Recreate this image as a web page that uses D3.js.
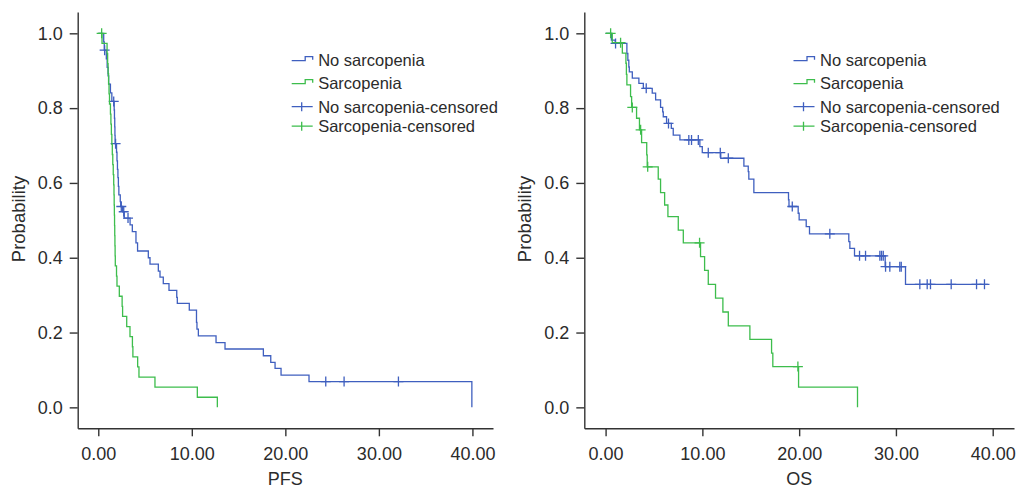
<!DOCTYPE html>
<html>
<head>
<meta charset="utf-8">
<script src="https://cdnjs.cloudflare.com/ajax/libs/d3/7.8.5/d3.min.js"></script>
<style>
  body { margin: 0; background: #fff; }
  text { font-family: "Liberation Sans", Arial, Helvetica, sans-serif; fill: #2b2b2b; }
</style>
</head>
<body>
<script>
// ---- data (time, survival after each drop; last point = end of follow-up) ----
var xTicks = [0, 10, 20, 30, 40];
var yTicks = [0, 0.2, 0.4, 0.6, 0.8, 1.0];
var legendLabels = ["No sarcopenia", "Sarcopenia", "No sarcopenia-censored", "Sarcopenia-censored"];

var pfsNoSarc = [
  [0, 1], [0.58, 0.977], [0.64, 0.955], [0.86, 0.932], [0.95, 0.909], [1.05, 0.886], [1.11, 0.864],
  [1.3, 0.841], [1.45, 0.818], [1.7, 0.795], [1.73, 0.773], [1.76, 0.75], [1.78, 0.727], [1.8, 0.705],
  [1.95, 0.682], [2.0, 0.659], [2.05, 0.636], [2.1, 0.614], [2.15, 0.591], [2.2, 0.568], [2.35, 0.55],
  [2.4, 0.537], [2.6, 0.523], [2.78, 0.506], [3.4, 0.488], [3.64, 0.47], [4.03, 0.44], [4.2, 0.418],
  [5.35, 0.4], [5.53, 0.383], [6.42, 0.364], [6.6, 0.348], [6.95, 0.331], [7.56, 0.313], [8.39, 0.294],
  [8.45, 0.278], [9.73, 0.26], [10.5, 0.227], [10.55, 0.209], [10.7, 0.191], [12.59, 0.173],
  [13.55, 0.156], [17.65, 0.138], [18.44, 0.12], [18.9, 0.104], [19.54, 0.086], [22.53, 0.069], [39.94, 0]
];
var pfsNoSarcCensored = [
  [0.68, 0.955], [1.65, 0.818], [1.85, 0.705], [2.46, 0.537], [2.72, 0.523], [3.18, 0.506],
  [24.32, 0.069], [26.28, 0.069], [32.09, 0.069]
];
var pfsSarc = [
  [0, 1], [0.4, 0.973], [0.94, 0.946], [1.0, 0.919], [1.05, 0.892], [1.1, 0.865], [1.15, 0.838],
  [1.2, 0.811], [1.3, 0.784], [1.35, 0.757], [1.4, 0.73], [1.45, 0.703], [1.5, 0.676], [1.55, 0.649],
  [1.6, 0.622], [1.65, 0.595], [1.68, 0.568], [1.7, 0.541], [1.72, 0.514], [1.74, 0.486], [1.76, 0.459],
  [1.78, 0.432], [1.8, 0.405], [1.82, 0.378], [1.95, 0.351], [2.0, 0.324], [2.25, 0.297], [2.55, 0.27],
  [2.6, 0.243], [3.04, 0.216], [3.39, 0.189], [3.65, 0.162], [3.7, 0.135], [4.21, 0.108], [4.35, 0.081],
  [6.06, 0.054], [10.59, 0.027], [12.73, 0]
];
var pfsSarcCensored = [[0.36, 1.0]];

var osNoSarc = [
  [0, 1], [0.6, 0.982], [1.0, 0.973], [2.2, 0.946], [2.3, 0.928], [2.4, 0.91], [2.45, 0.897],
  [2.76, 0.88], [3.44, 0.866], [3.9, 0.853], [4.82, 0.84], [5.17, 0.822], [5.68, 0.802], [5.9, 0.79],
  [5.96, 0.777], [6.3, 0.759], [6.79, 0.746], [6.99, 0.728], [7.68, 0.715], [9.74, 0.697], [9.99, 0.681],
  [11.9, 0.666], [14.29, 0.645], [14.74, 0.63], [14.8, 0.61], [15.32, 0.574], [18.9, 0.555],
  [18.95, 0.537], [19.9, 0.519], [20.0, 0.501], [20.73, 0.483], [21.07, 0.464], [25.13, 0.443],
  [25.24, 0.425], [25.72, 0.405], [28.89, 0.376], [30.99, 0.329], [39.5, 0.329]
];
var osNoSarcCensored = [
  [1.03, 0.973], [4.2, 0.853], [6.5, 0.759], [8.6, 0.715], [8.88, 0.715], [9.58, 0.715], [10.61, 0.681],
  [11.85, 0.681], [12.68, 0.666], [19.29, 0.537], [23.17, 0.464], [26.24, 0.405], [26.86, 0.405],
  [28.34, 0.405], [28.51, 0.405], [28.69, 0.405], [28.93, 0.376], [29.37, 0.376], [30.4, 0.376],
  [30.55, 0.376], [32.47, 0.329], [33.23, 0.329], [33.57, 0.329], [35.71, 0.329], [38.33, 0.329],
  [39.15, 0.329]
];
var osSarc = [
  [0, 1], [0.69, 0.975], [1.73, 0.947], [2.1, 0.92], [2.15, 0.89], [2.2, 0.862], [2.58, 0.831],
  [2.69, 0.802], [3.2, 0.773], [3.5, 0.742], [3.72, 0.708], [4.25, 0.675], [4.3, 0.643], [5.44, 0.61],
  [5.68, 0.574], [6.1, 0.541], [6.44, 0.51], [7.51, 0.474], [8.03, 0.44], [9.81, 0.403], [10.23, 0.366],
  [10.61, 0.329], [11.36, 0.292], [12.12, 0.255], [12.68, 0.218], [14.91, 0.182], [17.15, 0.145],
  [17.28, 0.109], [19.94, 0.054], [26.03, 0]
];
var osSarcCensored = [[0.52, 1.0], [1.55, 0.975], [2.76, 0.802], [3.62, 0.742], [4.35, 0.643], [9.71, 0.44], [19.87, 0.109]];

var blue = "#3f5fbf";
var green = "#3dbd4c";
var ink = "#333";

var svg = d3.select("body").append("svg")
  .attr("width", 1024)
  .attr("height", 488);

function drawPanel(left, right, xLabel, legendX, curves) {
  var x = d3.scaleLinear().domain([-2.2, 42.2]).range([left, right]);
  var y = d3.scaleLinear().domain([-0.056, 1.057]).range([428.3, 12]);
  var g = svg.append("g");

  var xAxis = g.append("g")
    .attr("transform", "translate(0,428.3)")
    .call(d3.axisBottom(x).tickValues(xTicks).tickFormat(d3.format(".2f")).tickSize(8).tickPadding(11).tickSizeOuter(0));
  var yAxis = g.append("g")
    .attr("transform", "translate(" + left + ",0)")
    .call(d3.axisLeft(y).tickValues(yTicks).tickFormat(d3.format(".1f")).tickSize(8).tickPadding(7).tickSizeOuter(0));
  [xAxis, yAxis].forEach(function (a) {
    a.select(".domain").attr("stroke", ink).attr("stroke-width", 1.4);
    a.selectAll(".tick line").attr("stroke", ink).attr("stroke-width", 1.4);
    a.selectAll(".tick text").attr("font-size", 18).attr("fill", ink)
      .attr("font-family", "'Liberation Sans', Arial, sans-serif");
  });

  g.append("text")
    .attr("x", (left + right) / 2).attr("y", 485)
    .attr("text-anchor", "middle").attr("font-size", 18)
    .text(xLabel);
  g.append("text")
    .attr("transform", "translate(" + (left - 53) + ",219) rotate(-90)")
    .attr("text-anchor", "middle").attr("font-size", 18.5)
    .text("Probability");

  var line = d3.line()
    .x(function (d) { return x(d[0]); })
    .y(function (d) { return y(d[1]); })
    .curve(d3.curveStepAfter);

  curves.forEach(function (c) {
    g.append("path")
      .datum(c.steps)
      .attr("d", line)
      .attr("fill", "none")
      .attr("stroke", c.color)
      .attr("stroke-width", 1.3);
    g.selectAll(null)
      .data(c.censored)
      .enter()
      .append("path")
      .attr("d", function (d) {
        var px = x(d[0]), py = y(d[1]);
        return "M" + (px - 5) + "," + py + "H" + (px + 5) + "M" + px + "," + (py - 5) + "V" + (py + 5);
      })
      .attr("stroke", c.color)
      .attr("stroke-width", 1.3);
  });

  // legend
  var rows = [66, 89, 112.5, 132];
  var colors = [blue, green, blue, green];
  legendLabels.forEach(function (lab, i) {
    var cy = rows[i] - 5.8;
    if (i < 2) {
      g.append("path")
        .attr("d", "M" + legendX + "," + (cy + 0.5) + "H" + (legendX + 13.5) + "V" + (cy - 3.5) +
          "H" + (legendX + 21) + "V" + (cy - 0.5))
        .attr("fill", "none").attr("stroke", colors[i]).attr("stroke-width", 1.3);
    } else {
      g.append("path")
        .attr("d", "M" + legendX + "," + cy + "H" + (legendX + 21) + "M" + (legendX + 10) + "," + (cy - 4.5) + "V" + (cy + 4.5))
        .attr("stroke", colors[i]).attr("stroke-width", 1.3);
    }
    g.append("text")
      .attr("x", legendX + 26.5).attr("y", rows[i])
      .attr("font-size", 16.5)
      .text(lab);
  });
}

drawPanel(77.7, 493, "PFS", 291.7, [
  { steps: pfsNoSarc, censored: pfsNoSarcCensored, color: blue },
  { steps: pfsSarc, censored: pfsSarcCensored, color: green }
]);
drawPanel(584.3, 1014, "OS", 793.5, [
  { steps: osNoSarc, censored: osNoSarcCensored, color: blue },
  { steps: osSarc, censored: osSarcCensored, color: green }
]);
</script>
</body>
</html>
